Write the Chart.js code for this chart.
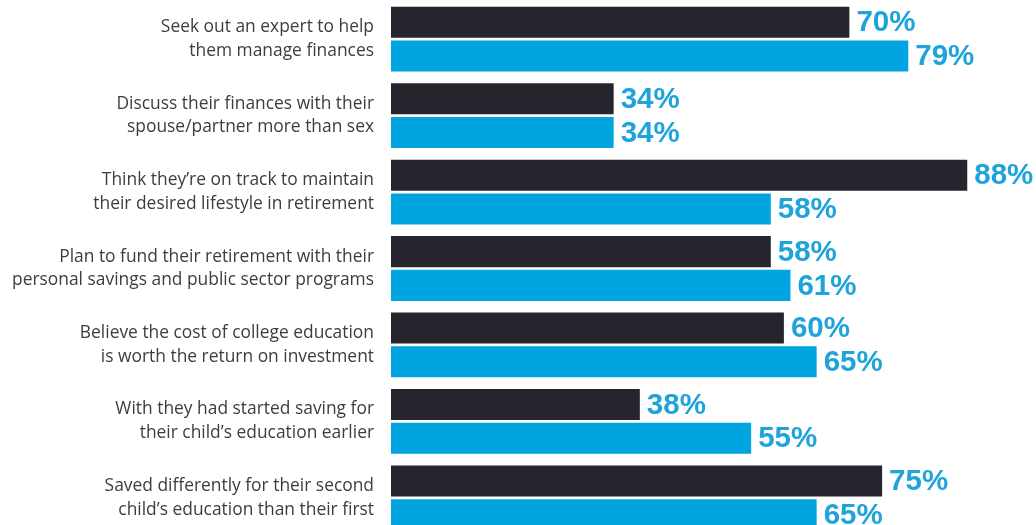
<!DOCTYPE html>
<html>
<head>
<meta charset="utf-8">
<title>Finance attitudes</title>
<script src="https://cdn.jsdelivr.net/npm/chart.js@4/dist/chart.umd.min.js"></script>
<style>
  html, body { margin: 0; padding: 0; background: #fff; overflow: hidden; }
  #wrap { position: relative; width: 1036px; height: 536px; }
</style>
</head>
<body>
<div id="wrap"><canvas id="chart"></canvas></div>
<script>
// statements, each split over two lines
const categories = [
  ['Seek out an expert to help', 'them manage finances'],
  ['Discuss their finances with their', 'spouse/partner more than sex'],
  ['Think they\u2019re on track to maintain', 'their desired lifestyle in retirement'],
  ['Plan to fund their retirement with their', 'personal savings and public sector programs'],
  ['Believe the cost of college education', 'is worth the return on investment'],
  ['With they had started saving for', 'their child\u2019s education earlier'],
  ['Saved differently for their second', 'child\u2019s education than their first']
];
const darkValues = [70, 34, 88, 58, 60, 38, 75];
const blueValues = [79, 34, 58, 61, 65, 55, 65];

const DARK = '#26252d';
const BLUE = '#00a4de';
const LABEL_BLUE = '#1ea3db';

// percentage labels at the end of each bar
const valueLabels = {
  id: 'valueLabels',
  afterDatasetsDraw(chart) {
    const ctx = chart.ctx;
    ctx.save();
    ctx.font = 'bold 29.5px "Liberation Sans", Arial, sans-serif';
    ctx.fillStyle = LABEL_BLUE;
    ctx.textAlign = 'left';
    ctx.textBaseline = 'middle';
    chart.data.datasets.forEach((ds, i) => {
      chart.getDatasetMeta(i).data.forEach((bar, j) => {
        ctx.fillText(ds.data[j] + '%', bar.x + 7, bar.y + 1);
      });
    });
    ctx.restore();
  }
};

new Chart(document.getElementById('chart'), {
  type: 'bar',
  data: {
    labels: categories,
    datasets: [
      { data: darkValues, backgroundColor: DARK },
      { data: blueValues, backgroundColor: BLUE }
    ]
  },
  options: {
    indexAxis: 'y',
    responsive: true,
    maintainAspectRatio: false,
    animation: false,
    categoryPercentage: 0.883,
    barPercentage: 0.92,
    layout: { padding: { top: 1, right: 0, bottom: 0, left: 0 } },
    plugins: {
      legend: { display: false },
      tooltip: { enabled: false }
    },
    scales: {
      x: {
        display: false,
        min: 0,
        max: 98.5
      },
      y: {
        grid: { display: false },
        border: { display: false },
        afterFit(scale) {
          // fixed axis width, and no extra room above/below the first and last label
          scale.width = 391;
          scale.paddingTop = 0;
          scale.paddingBottom = 0;
        },
        ticks: {
          padding: 9,
          color: '#3d3d3d',
          font: { family: '"Open Sans", Roboto, sans-serif', size: 17.4, lineHeight: 1.36 }
        }
      }
    }
  },
  plugins: [valueLabels]
});
</script>
</body>
</html>
